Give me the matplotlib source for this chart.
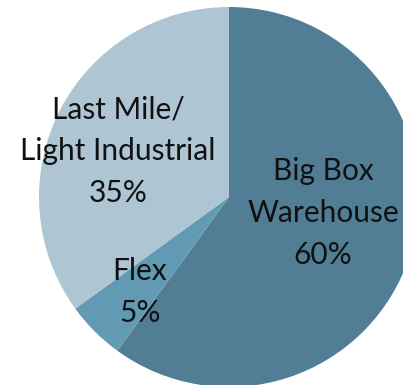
import numpy as np
import matplotlib.pyplot as plt

# data
labels = ['Big Box\nWarehouse', 'Flex', 'Last Mile/\nLight Industrial']
shares = [60, 5, 35]
colors = ['#527e95', '#629ab4', '#aec5d4']
# label anchor points (pixels, from top-left)
label_xy = [(323, 213), (140, 292), (118, 151)]

fig = plt.figure(figsize=(4.03, 3.85), dpi=100)
ax = fig.add_axes([0, 0, 1, 1])

W, H = 403, 385
cx, cy, r = 229, 197, 190

ax.pie(shares, colors=colors, startangle=90, counterclock=False,
       center=(cx, H - cy), radius=r, frame=True,
       wedgeprops=dict(linewidth=0))

for lab, val, (x, y) in zip(labels, shares, label_xy):
    ax.text(x, H - y, f"{lab}\n{val}%", ha='center', va='center',
            fontsize=21.5, family=['Lato', 'DejaVu Sans'], color='#111111',
            linespacing=1.6)

ax.set_xlim(0, W)
ax.set_ylim(0, H)
ax.set_aspect('equal')
ax.axis('off')

fig.savefig('out.png', dpi=100)
